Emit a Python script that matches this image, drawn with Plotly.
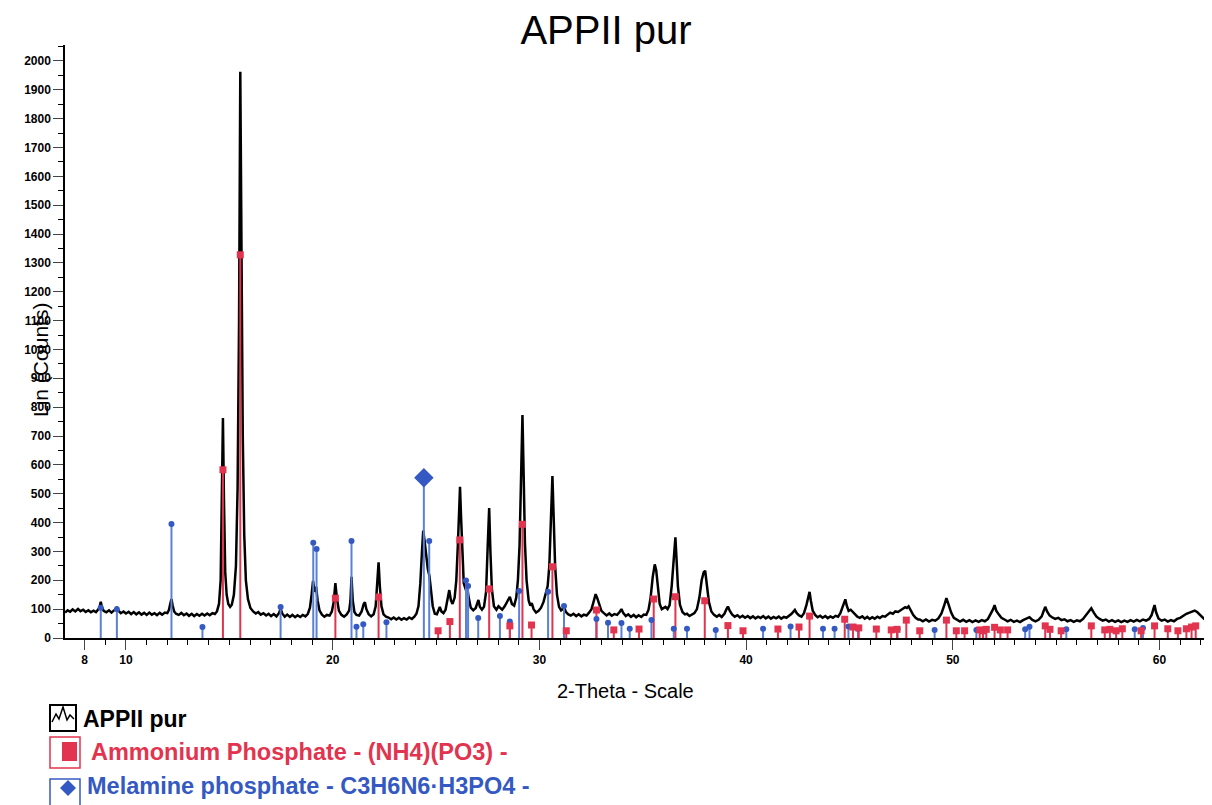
import plotly.graph_objects as go

# --- measured scan (2-theta, Lin counts), split by angle range ---
SCAN_07_12 = [(7.05, 88), (7.18, 96), (7.3, 91), (7.42, 99), (7.55, 92), (7.68, 101), (7.8, 93), (7.93, 98),
              (8.05, 90), (8.18, 96), (8.3, 89), (8.43, 95), (8.55, 90), (8.67, 100), (8.74, 112), (8.78, 126),
              (8.83, 108), (8.92, 94), (9.05, 89), (9.18, 96), (9.3, 88), (9.42, 94), (9.52, 102), (9.56, 108),
              (9.62, 96), (9.75, 86), (9.88, 92), (10.0, 85), (10.13, 91), (10.25, 83), (10.38, 90), (10.5, 82),
              (10.63, 89), (10.75, 81), (10.88, 87), (11.0, 80), (11.13, 88), (11.25, 81), (11.38, 86), (11.5, 79),
              (11.63, 87), (11.75, 81), (11.88, 88), (12.0, 86), (12.08, 98), (12.14, 118), (12.2, 135),
              (12.26, 112), (12.33, 92), (12.42, 84)]
SCAN_12_17 = [(12.55, 80), (12.68, 87), (12.8, 79), (12.93, 85), (13.05, 77), (13.18, 84), (13.3, 76), (13.43, 83),
              (13.55, 77), (13.68, 84), (13.8, 78), (13.93, 85), (14.05, 79), (14.18, 86), (14.3, 83), (14.4, 92),
              (14.5, 118), (14.58, 200), (14.64, 450), (14.69, 762), (14.74, 480), (14.8, 230), (14.87, 150),
              (14.95, 118), (15.04, 108), (15.12, 115), (15.22, 150), (15.32, 250), (15.4, 520), (15.47, 1100),
              (15.53, 1962), (15.59, 1350), (15.65, 700), (15.72, 360), (15.8, 200), (15.9, 135), (16.02, 104),
              (16.15, 92), (16.28, 85), (16.4, 90), (16.52, 81), (16.65, 86), (16.78, 78), (16.9, 84)]
SCAN_17_23 = [(17.02, 76), (17.15, 83), (17.28, 75), (17.4, 86), (17.48, 101), (17.56, 85), (17.68, 74), (17.8, 81),
              (17.93, 73), (18.05, 80), (18.18, 72), (18.3, 79), (18.43, 73), (18.55, 80), (18.68, 75), (18.8, 84),
              (18.9, 105), (18.98, 150), (19.05, 198), (19.12, 160), (19.2, 178), (19.27, 130), (19.36, 96),
              (19.48, 81), (19.6, 74), (19.72, 80), (19.85, 78), (19.96, 92), (20.05, 125), (20.13, 190),
              (20.2, 140), (20.3, 95), (20.42, 80), (20.55, 74), (20.68, 82), (20.8, 96), (20.86, 130), (20.91, 212),
              (20.97, 130), (21.05, 90), (21.15, 80), (21.28, 78), (21.4, 92), (21.5, 118), (21.56, 124),
              (21.63, 100), (21.74, 82), (21.86, 75), (21.98, 82), (22.08, 110), (22.16, 190), (22.22, 262),
              (22.28, 180), (22.36, 110), (22.46, 82), (22.58, 74)]
SCAN_23_31 = [(22.7, 71), (22.83, 65), (22.95, 71), (23.08, 64), (23.2, 70), (23.33, 63), (23.45, 69), (23.58, 64),
              (23.7, 71), (23.83, 66), (23.95, 74), (24.05, 84), (24.15, 110), (24.24, 190), (24.32, 300),
              (24.38, 372), (24.44, 340), (24.52, 280), (24.6, 240), (24.68, 215), (24.75, 160), (24.84, 110),
              (24.94, 84), (25.04, 82), (25.12, 96), (25.18, 108), (25.26, 92), (25.36, 86), (25.46, 98),
              (25.56, 130), (25.64, 166), (25.72, 130), (25.8, 118), (25.9, 140), (25.98, 200), (26.06, 330),
              (26.12, 450), (26.16, 524), (26.21, 420), (26.27, 280), (26.34, 190), (26.42, 172), (26.5, 178),
              (26.58, 140), (26.68, 105), (26.8, 96), (26.92, 104), (27.0, 122), (27.05, 132), (27.12, 108),
              (27.22, 98), (27.32, 108), (27.42, 160), (27.5, 320), (27.57, 450), (27.63, 300), (27.7, 170),
              (27.8, 110), (27.92, 98), (28.02, 110), (28.1, 104), (28.2, 98), (28.32, 110), (28.45, 128),
              (28.57, 143), (28.67, 118), (28.78, 112), (28.88, 140), (28.96, 200), (29.04, 320), (29.1, 520),
              (29.18, 773), (29.24, 560), (29.3, 330), (29.38, 200), (29.48, 130), (29.56, 112), (29.63, 121),
              (29.72, 100), (29.84, 88), (29.96, 94), (30.08, 105), (30.2, 125), (30.3, 150), (30.4, 180),
              (30.48, 250), (30.55, 420), (30.63, 561), (30.69, 420), (30.76, 250), (30.85, 150), (30.95, 108),
              (31.05, 96), (31.12, 100), (31.19, 108), (31.28, 90), (31.4, 82)]
SCAN_31_40 = [(31.52, 78), (31.65, 84), (31.78, 76), (31.9, 82), (32.03, 75), (32.15, 81), (32.28, 78), (32.4, 88),
              (32.52, 100), (32.62, 125), (32.72, 152), (32.8, 138), (32.9, 112), (33.0, 94), (33.12, 86),
              (33.25, 78), (33.38, 85), (33.5, 77), (33.63, 83), (33.76, 80), (33.88, 90), (33.97, 100), (34.06, 86),
              (34.18, 76), (34.3, 82), (34.43, 73), (34.56, 80), (34.68, 72), (34.8, 79), (34.93, 73), (35.05, 81),
              (35.17, 80), (35.28, 98), (35.38, 140), (35.48, 210), (35.58, 255), (35.65, 235), (35.73, 170),
              (35.82, 118), (35.92, 100), (36.02, 104), (36.1, 108), (36.2, 100), (36.3, 114), (36.4, 180),
              (36.48, 270), (36.54, 330), (36.58, 349), (36.63, 280), (36.7, 180), (36.8, 115), (36.92, 90),
              (37.04, 82), (37.14, 84), (37.26, 76), (37.38, 82), (37.5, 86), (37.62, 100), (37.74, 140),
              (37.85, 200), (37.95, 228), (38.02, 233), (38.1, 190), (38.2, 125), (38.32, 92), (38.45, 80),
              (38.58, 74), (38.7, 80), (38.82, 73), (38.95, 84), (39.05, 100), (39.12, 109), (39.2, 96), (39.32, 82),
              (39.45, 74), (39.58, 79), (39.7, 71), (39.83, 77), (39.95, 70)]
SCAN_40_48 = [(40.08, 76), (40.2, 69), (40.33, 75), (40.45, 68), (40.58, 74), (40.7, 69), (40.83, 76), (40.95, 68),
              (41.08, 74), (41.2, 67), (41.33, 73), (41.45, 68), (41.58, 74), (41.7, 67), (41.83, 73), (41.95, 70),
              (42.08, 76), (42.2, 84), (42.3, 92), (42.36, 97), (42.45, 86), (42.56, 78), (42.68, 74), (42.8, 86),
              (42.92, 115), (43.0, 142), (43.07, 160), (43.13, 130), (43.22, 95), (43.34, 80), (43.46, 72),
              (43.58, 77), (43.7, 70), (43.83, 76), (43.95, 69), (44.08, 75), (44.2, 70), (44.33, 77), (44.45, 74),
              (44.56, 86), (44.66, 105), (44.74, 125), (44.8, 134), (44.87, 112), (44.96, 94), (45.06, 98),
              (45.15, 92), (45.26, 82), (45.38, 74), (45.5, 70), (45.62, 75), (45.74, 67), (45.86, 73), (45.98, 66),
              (46.1, 72), (46.22, 67), (46.35, 74), (46.47, 69), (46.6, 76), (46.72, 74), (46.85, 82), (46.97, 88),
              (47.1, 84), (47.22, 92), (47.35, 90), (47.48, 98), (47.6, 102), (47.7, 107), (47.78, 104),
              (47.86, 110), (47.96, 96), (48.08, 80), (48.2, 70), (48.32, 64)]
SCAN_48_62 = [(48.4, 64), (48.55, 58), (48.7, 64), (48.85, 57), (49.0, 63), (49.15, 60), (49.3, 68), (49.45, 85),
              (49.57, 110), (49.69, 138), (49.8, 115), (49.92, 88), (50.05, 70), (50.2, 62), (50.35, 57), (50.5, 63),
              (50.65, 56), (50.8, 62), (50.95, 55), (51.1, 61), (51.25, 56), (51.4, 62), (51.55, 58), (51.7, 66),
              (51.85, 85), (51.95, 100), (52.02, 114), (52.1, 95), (52.22, 82), (52.35, 70), (52.5, 64), (52.65, 58),
              (52.8, 63), (52.95, 56), (53.1, 60), (53.25, 55), (53.4, 62), (53.55, 66), (53.71, 72), (53.85, 63),
              (54.0, 58), (54.15, 63), (54.3, 75), (54.4, 95), (54.47, 108), (54.56, 92), (54.68, 78), (54.8, 72),
              (54.95, 66), (55.1, 70), (55.25, 62), (55.4, 65), (55.55, 58), (55.7, 62), (55.85, 56), (56.0, 61),
              (56.15, 58), (56.3, 66), (56.45, 80), (56.58, 95), (56.7, 103), (56.82, 88), (56.95, 74), (57.1, 66),
              (57.25, 60), (57.4, 64), (57.55, 57), (57.7, 62), (57.85, 56), (58.0, 61), (58.15, 55), (58.3, 60),
              (58.45, 56), (58.6, 62), (58.75, 57), (58.9, 63), (59.05, 58), (59.2, 64), (59.35, 60), (59.5, 66),
              (59.62, 80), (59.7, 100), (59.76, 114), (59.83, 90), (59.95, 68), (60.1, 60), (60.25, 64), (60.4, 57),
              (60.55, 62), (60.7, 58), (60.85, 66), (61.0, 70), (61.15, 78), (61.3, 84), (61.45, 88), (61.6, 92),
              (61.7, 95), (61.82, 90), (61.95, 82), (62.08, 72), (62.18, 65)]

# --- reference pattern lines ---
AMMONIUM_POS = [14.69, 15.53, 20.13, 22.22, 25.10, 25.67, 26.15, 27.57, 28.57, 29.18, 29.62, 30.63, 31.30, 32.76,
                33.60, 34.82, 35.53, 36.58, 38.00, 39.12, 39.85, 41.54, 42.56, 43.07, 44.77, 45.17, 45.45, 46.30,
                47.02, 47.30, 47.75, 48.40, 49.69, 50.17, 50.57, 51.30, 51.46, 51.62, 52.02, 52.30, 52.65, 54.47,
                54.70, 55.24, 56.70, 57.35, 57.60, 57.90, 58.20, 59.11, 59.76, 60.40, 60.89, 61.30, 61.55, 61.75]
AMMONIUM_INT = [583, 1328, 138, 142, 25, 57, 340, 170, 42, 394, 45, 247, 25, 97,
                28, 31, 135, 143, 129, 43, 25, 31, 38, 76, 65, 38, 35, 31,
                28, 30, 62, 25, 62, 25, 25, 28, 25, 30, 37, 28, 28, 42,
                30, 25, 42, 28, 30, 25, 32, 25, 42, 32, 25, 32, 38, 42]
MELAMINE_POS = [8.78, 9.56, 12.20, 13.70, 17.48, 19.06, 19.22, 20.91, 21.15, 21.48, 22.60, 24.41, 24.67, 26.45,
                26.55, 27.04, 28.09, 28.57, 29.02, 30.42, 31.19, 32.76, 33.32, 33.97, 34.37, 35.42, 36.50, 37.14,
                38.53, 40.82, 42.15, 43.72, 44.28, 44.95, 45.41, 47.33, 49.12, 51.14, 53.50, 53.71, 55.49, 58.80,
                59.20]
MELAMINE_INT = [105, 100, 395, 38, 107, 330, 308, 336, 39, 48, 55, 555, 336, 199,
                180, 69, 76, 57, 163, 160, 111, 66, 53, 52, 32, 62, 32, 32,
                28, 32, 40, 32, 32, 40, 32, 31, 28, 28, 30, 39, 30, 30,
                35]

X_TICKS = [8, 10, 20, 30, 40, 50, 60]

RED = "#e2334f"
BLUE = "#3459c2"
STICK_BLUE = "#5a80d8"
FONT = "Liberation Sans, Arial, sans-serif"

# page body adds an 8px offset; margins are chosen so the plot lands where the reference has it
OFF = 8
W, H = 1212, 805
L, R, T, B = 65 - OFF, 7 + OFF, 45 - OFF, 167 + OFF
PW, PH = W - L - R, H - T - B


def px_x(p):
    return (p - OFF - L) / PW


def px_y(p):
    return (H - B - (p - OFF)) / PH


def sticks(pos, vals):
    xs, ys = [], []
    for p, v in zip(pos, vals):
        xs += [p, p, None]
        ys += [0, v, None]
    return xs, ys


scan = SCAN_07_12 + SCAN_12_17 + SCAN_17_23 + SCAN_23_31 + SCAN_31_40 + SCAN_40_48 + SCAN_48_62
two_theta = [p[0] for p in scan]
counts = [p[1] for p in scan]

fig = go.Figure()
fig.add_trace(go.Scatter(x=two_theta, y=counts, mode="lines",
                         line=dict(color="black", width=2.5), name="APPII pur"))

mx, my = sticks(MELAMINE_POS, MELAMINE_INT)
fig.add_trace(go.Scatter(x=mx, y=my, mode="lines", line=dict(color=STICK_BLUE, width=2)))
ax, ay = sticks(AMMONIUM_POS, AMMONIUM_INT)
fig.add_trace(go.Scatter(x=ax, y=ay, mode="lines", line=dict(color=RED, width=2)))

# markers at line tops; strongest melamine line gets the big diamond
top = MELAMINE_INT.index(max(MELAMINE_INT))
fig.add_trace(go.Scatter(x=MELAMINE_POS, y=MELAMINE_INT, mode="markers",
                         marker=dict(color=BLUE, size=6, symbol="circle", line=dict(width=0))))
fig.add_trace(go.Scatter(x=[MELAMINE_POS[top]], y=[MELAMINE_INT[top]], mode="markers",
                         marker=dict(color=BLUE, size=15, symbol="diamond", line=dict(width=0))))
fig.add_trace(go.Scatter(x=AMMONIUM_POS, y=AMMONIUM_INT, mode="markers",
                         marker=dict(color=RED, size=7, symbol="square", line=dict(width=0))))

# legend drawn by hand (icons + coloured labels), positions in page pixels
shapes = [
    dict(type="rect", x0=px_x(50), x1=px_x(76), y0=px_y(705), y1=px_y(731), line=dict(color="black", width=2)),
    dict(type="rect", x0=px_x(50), x1=px_x(80), y0=px_y(737), y1=px_y(768), line=dict(color=RED, width=1.5)),
    dict(type="rect", x0=px_x(62), x1=px_x(77), y0=px_y(742), y1=px_y(761), fillcolor=RED, line=dict(width=0)),
    dict(type="rect", x0=px_x(50), x1=px_x(80), y0=px_y(779), y1=px_y(812), line=dict(color=BLUE, width=1.5)),
]
zig = [(52, 722), (56, 714), (59, 719), (63, 707), (67, 720), (70, 715), (74, 719)]
shapes.append(dict(type="path", line=dict(color="black", width=1.5),
                   path="M " + " L ".join(f"{px_x(a):.5f},{px_y(b):.5f}" for a, b in zig)))
dia = [(68, 780), (76, 788), (68, 796), (60, 788)]
shapes.append(dict(type="path", fillcolor=BLUE, line=dict(width=0),
                   path="M " + " L ".join(f"{px_x(a):.5f},{px_y(b):.5f}" for a, b in dia) + " Z"))
for s in shapes:
    s.update(xref="paper", yref="paper")

annotations = [
    dict(text="2-Theta - Scale", x=px_x(625), y=px_y(691), font=dict(size=20, color="black")),
    dict(text="Lin (Counts)", x=px_x(40), y=px_y(360), textangle=-90, font=dict(size=21, color="black")),
    dict(text="<b>APPII pur</b>", x=px_x(81), y=px_y(719), xanchor="left", font=dict(size=23, color="black")),
    dict(text="<b>Ammonium Phosphate - (NH4)(PO3) -</b>", x=px_x(89), y=px_y(752), xanchor="left",
         font=dict(size=23.5, color=RED)),
    dict(text="<b>Melamine phosphate - C3H6N6·H3PO4 -</b>", x=px_x(85), y=px_y(786), xanchor="left",
         font=dict(size=23.5, color=BLUE)),
]
for a in annotations:
    a.update(xref="paper", yref="paper", showarrow=False, yanchor=a.get("yanchor", "middle"),
             xanchor=a.get("xanchor", "center"))

fig.update_layout(
    width=W, height=H, autosize=False,
    margin=dict(l=L, r=R, t=T, b=B),
    paper_bgcolor="white", plot_bgcolor="white",
    showlegend=False,
    font=dict(family=FONT, color="black"),
    title=dict(text="APPII pur", x=(606 - OFF) / W, xanchor="center", y=1 - (30 - OFF) / H, yanchor="middle",
               yref="container", xref="container", font=dict(size=40, color="black")),
    xaxis=dict(range=[7.05, 62.2], tickvals=X_TICKS, ticks="outside", ticklen=10, tickwidth=1,
               showline=True, linecolor="black", linewidth=1.5, showgrid=False, zeroline=False,
               tickfont=dict(size=12, weight="bold"),
               minor=dict(dtick=1, tick0=0, ticks="outside", ticklen=5, tickcolor="black", showgrid=False)),
    yaxis=dict(range=[0, 2055], dtick=100, tick0=0, ticks="outside", ticklen=10, tickwidth=1,
               showline=True, linecolor="black", linewidth=1.5, showgrid=False, zeroline=False,
               tickfont=dict(size=12, weight="bold"),
               minor=dict(dtick=50, tick0=0, ticks="outside", ticklen=5, tickcolor="black", showgrid=False)),
    shapes=shapes,
    annotations=annotations,
)

fig.write_html("out.html")
